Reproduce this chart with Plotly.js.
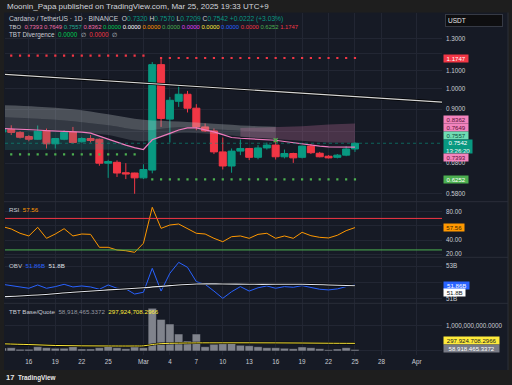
<!DOCTYPE html>
<html><head><meta charset="utf-8">
<script src="https://cdn.plot.ly/plotly-3.0.1.min.js"></script>
<style>html,body{margin:0;padding:0;background:#1e1e1e;}#chart{width:512px;height:385px;}</style>
</head><body><div id="chart"></div>
<script>
// ---------- DATA ----------
const dates = ['2025-02-13','2025-02-14','2025-02-15','2025-02-16','2025-02-17','2025-02-18','2025-02-19','2025-02-20','2025-02-21','2025-02-22','2025-02-23','2025-02-24','2025-02-25','2025-02-26','2025-02-27','2025-02-28','2025-03-01','2025-03-02','2025-03-03','2025-03-04','2025-03-05','2025-03-06','2025-03-07','2025-03-08','2025-03-09','2025-03-10','2025-03-11','2025-03-12','2025-03-13','2025-03-14','2025-03-15','2025-03-16','2025-03-17','2025-03-18','2025-03-19','2025-03-20','2025-03-21','2025-03-22','2025-03-23','2025-03-24','2025-03-25'];
const open  = [0.800,0.810,0.798,0.781,0.770,0.806,0.752,0.770,0.800,0.760,0.773,0.770,0.680,0.683,0.647,0.646,0.630,0.656,1.135,0.855,0.938,0.973,0.905,0.821,0.804,0.721,0.670,0.724,0.734,0.701,0.736,0.747,0.703,0.715,0.701,0.743,0.716,0.705,0.701,0.709,0.7320];
const high  = [0.815,0.828,0.803,0.787,0.827,0.814,0.775,0.807,0.821,0.778,0.787,0.773,0.692,0.690,0.680,0.647,0.676,1.150,1.1747,0.959,1.023,0.990,0.924,0.836,0.814,0.777,0.734,0.769,0.736,0.747,0.757,0.773,0.730,0.718,0.745,0.751,0.721,0.709,0.713,0.743,0.7570];
const low   = [0.795,0.787,0.773,0.762,0.768,0.734,0.734,0.766,0.753,0.757,0.757,0.671,0.630,0.633,0.626,0.580,0.626,0.645,0.821,0.757,0.911,0.885,0.807,0.800,0.713,0.658,0.647,0.709,0.691,0.694,0.730,0.693,0.697,0.681,0.697,0.713,0.701,0.697,0.697,0.705,0.7209];
const close = [0.810,0.798,0.778,0.770,0.803,0.752,0.773,0.798,0.757,0.773,0.765,0.680,0.686,0.646,0.643,0.630,0.658,1.135,0.858,0.943,0.973,0.905,0.821,0.804,0.721,0.670,0.724,0.734,0.701,0.736,0.747,0.703,0.715,0.699,0.743,0.718,0.703,0.699,0.709,0.732,0.7542];

// TBO fast line (pink)
const fastMA = [0.814,0.813,0.811,0.809,0.808,0.805,0.804,0.803,0.801,0.799,0.795,0.782,0.769,0.759,0.747,0.737,0.730,0.768,0.780,0.794,0.808,0.817,0.817,0.810,0.800,0.789,0.777,0.774,0.772,0.770,0.769,0.766,0.761,0.756,0.751,0.746,0.743,0.740,0.739,0.738,0.7393];
// gray cloud
const cloudDates = ['2025-02-13','2025-02-17','2025-02-21','2025-02-25','2025-03-01','2025-03-05','2025-03-09','2025-03-13','2025-03-16'];
const cloudTop = [0.919,0.912,0.900,0.877,0.852,0.844,0.835,0.826,0.822];
const cloudMid = [0.864,0.857,0.846,0.828,0.807,0.820,0.811,0.803,0.800];
const cloudBot = [0.816,0.811,0.803,0.787,0.762,0.795,0.791,0.778,0.772];
// teal cloud under fast line
const tealLowDates = ['2025-02-13','2025-02-20','2025-02-27','2025-03-01'];
const tealLow = [0.728,0.730,0.731,0.730];
// pink cloud
const pinkDates = ['2025-03-12','2025-03-16','2025-03-19','2025-03-22','2025-03-25'];
const pinkTop = [0.816,0.820,0.824,0.831,0.8362];
const pinkBot = [0.780,0.770,0.762,0.757,0.7557];
// trend line drawing
const trendDates = ['2025-02-13','2025-04-05'];
const trendVals = [1.080,0.931];
// dotted levels
const resistLevels = [1.189, 1.1747];
const supportLevels = [0.712, 0.6252];
// signal cross
const crossDates = ['2025-03-16'];
const crossVals = [0.766];

// RSI
const rsi = [59,55.6,49.5,45.7,58,42.4,48.5,56,45.7,48.5,48,29.7,29.7,25.9,24.9,22.6,35.4,86.2,56.5,61.2,62.6,56.5,49.5,48.5,42.4,37.6,44.7,45.7,42.4,48,49.5,42.4,45.7,42.4,50.9,46.1,43.8,42.9,46.7,53.2,57.56];
const rsiUpper = 70.5, rsiLower = 26;
// OBV (billions)
const obv = [51.89,51.81,51.75,51.65,51.85,51.65,51.75,51.89,51.73,51.79,51.73,51.59,51.85,51.65,51.61,51.30,51.41,52.86,51.48,52.56,53.22,52.92,52.05,51.89,51.48,51.04,51.44,51.75,51.48,51.68,51.79,51.65,51.75,51.71,51.81,51.71,51.59,51.55,51.61,51.75,51.86];
const obvMaDates = ['2025-02-13','2025-02-17','2025-02-21','2025-02-25','2025-03-01','2025-03-04','2025-03-07','2025-03-10','2025-03-13','2025-03-16','2025-03-19','2025-03-22','2025-03-25'];
const obvMa = [51.14,51.24,51.41,51.55,51.68,51.81,51.91,51.91,51.89,51.89,51.89,51.85,51.80];
// TBT Base/Quote volume (millions)
const vol = [120,128,66,66,167,128,105,105,167,78,78,128,233,128,90,156,128,1660,1230,1050,660,390,660,167,260,284,323,222,206,167,128,128,105,90,156,128,90,51,78,128,58.918];
const volMaDates = ['2025-02-13','2025-02-16','2025-02-19','2025-02-22','2025-02-25','2025-02-28','2025-03-01','2025-03-02','2025-03-03','2025-03-05','2025-03-07','2025-03-10','2025-03-13','2025-03-16','2025-03-19','2025-03-22','2025-03-25'];
const volMa = [280,250,215,200,195,195,200,250,285,305,315,318,318,315,310,303,297.925];

// axis ticks
const xTickVals = ['2025-02-16','2025-02-19','2025-02-22','2025-02-25','2025-03-01','2025-03-04','2025-03-07','2025-03-10','2025-03-13','2025-03-16','2025-03-19','2025-03-22','2025-03-25','2025-03-28','2025-04-01'];
const xTickText = ['16','19','22','25','Mar','4','7','10','13','16','19','22','25','28','Apr'];
const priceTicks = [0.58,0.68,0.8,0.9,1.0,1.1,1.2,1.3];
const priceTickText = ['0.5800','0.6800','','0.9000','1.0000','1.1000','','1.3000'];
const rsiTicks = [20,40,60,80], rsiTickText = ['20.00','40.00','','80.00'];
const obvTicks = [51,52,53], obvTickText = ['51B','','53B'];
const volTicks = [0,1000], volTickText = ['','1,000,000,000.0000'];

// TBO legend values
const tboVals = ['0.7393','0.7649','0.7557','0.8362','0.0000','0.0000','0.0000','0.0000','0.0000','0.0000','0.0000','0.0000','0.6252','1.1747'];

// ---------- LAYOUT HELPERS ----------
const W = 512, H = 385;
const F = 'Liberation Sans, Arial, sans-serif';
const PX = p => p / W, PY = p => 1 - p / H;
const xRange = ['2025-02-13 07:00','2025-04-03 21:00'];
const GRID = '#222633';
const TXT = '#c9ccd4';

const tboColors = ['#f06ba8','#f06ba8','#22ab94','#f06ba8','#00c853','#ffffff','#ff9800','#4caf50','#e040fb','#ffeb3b','#2962ff','#f23645','#4caf50','#f23645'];
const sp = (c, t) => `<span style="color:${c}">${t}</span>`;

const traces = [];
traces.push({type:'candlestick', x:dates, open, high, low, close, xaxis:'x', yaxis:'y',
  increasing:{line:{color:'#089981',width:1}, fillcolor:'#089981'},
  decreasing:{line:{color:'#f23645',width:1}, fillcolor:'#f23645'},
  whiskerwidth:0, hoverinfo:'skip'});
// teal cloud
traces.push({type:'scatter', mode:'lines', x:dates.slice(0,17), y:fastMA.slice(0,17), line:{width:0}, yaxis:'y', hoverinfo:'skip'});
traces.push({type:'scatter', mode:'lines', x:tealLowDates, y:tealLow, line:{width:0}, fill:'tonexty', fillcolor:'rgba(38,166,154,0.18)', yaxis:'y', hoverinfo:'skip'});
// gray cloud
traces.push({type:'scatter', mode:'lines', x:cloudDates, y:cloudTop, line:{width:0,shape:'spline'}, yaxis:'y', hoverinfo:'skip'});
traces.push({type:'scatter', mode:'lines', x:cloudDates, y:cloudMid, line:{width:0,shape:'spline'}, fill:'tonexty', fillcolor:'rgba(200,205,210,0.30)', yaxis:'y', hoverinfo:'skip'});
traces.push({type:'scatter', mode:'lines', x:cloudDates, y:cloudBot, line:{width:0,shape:'spline'}, fill:'tonexty', fillcolor:'rgba(170,178,185,0.20)', yaxis:'y', hoverinfo:'skip'});
// pink cloud
traces.push({type:'scatter', mode:'lines', x:pinkDates, y:pinkTop, line:{width:0}, yaxis:'y', hoverinfo:'skip'});
traces.push({type:'scatter', mode:'lines', x:pinkDates, y:pinkBot, line:{width:0}, fill:'tonexty', fillcolor:'rgba(205,120,165,0.28)', yaxis:'y', hoverinfo:'skip'});
// fast line
traces.push({type:'scatter', mode:'lines', x:dates, y:fastMA, line:{color:'#ef7bbd',width:1.2}, yaxis:'y', hoverinfo:'skip'});
// trend line
traces.push({type:'scatter', mode:'lines', x:trendDates, y:trendVals, line:{color:'#000000',width:2.6}, yaxis:'y', hoverinfo:'skip'});
traces.push({type:'scatter', mode:'lines', x:trendDates, y:trendVals, line:{color:'#d6d6d6',width:1.1}, yaxis:'y', hoverinfo:'skip'});
// dotted levels
const res1 = dates.slice(1,17), res2 = dates.slice(18), sup1 = dates.slice(1,16), sup2 = dates.slice(17);
[[res1,resistLevels[0],'#f23645'],[res2,resistLevels[1],'#f23645'],[sup1,supportLevels[0],'#4caf50'],[sup2,supportLevels[1],'#4caf50']].forEach(([d,lv,c])=>{
  traces.push({type:'scatter', mode:'markers', x:d, y:d.map(()=>lv), marker:{symbol:'square',size:2.2,color:c}, yaxis:'y', hoverinfo:'skip'});
});
// last price line
const last = close[close.length-1];
traces.push({type:'scatter', mode:'lines', x:xRange, y:[last,last], line:{color:'rgba(8,153,129,0.75)',width:0.8,dash:'dot'}, yaxis:'y', hoverinfo:'skip'});
traces.push({type:'scatter', mode:'markers', x:crossDates, y:crossVals, marker:{symbol:'x-thin',size:4,color:'#4caf50',line:{color:'#4caf50',width:1.5}}, yaxis:'y', hoverinfo:'skip'});
// RSI
traces.push({type:'scatter', mode:'lines', x:dates, y:rsi, line:{color:'#ff9800',width:1}, yaxis:'y2', hoverinfo:'skip'});
// OBV
traces.push({type:'scatter', mode:'lines', x:dates, y:obv, line:{color:'#2962ff',width:1}, yaxis:'y3', hoverinfo:'skip'});
traces.push({type:'scatter', mode:'lines', x:obvMaDates, y:obvMa, line:{color:'#000000',width:2.4,shape:'spline'}, yaxis:'y3', hoverinfo:'skip'});
traces.push({type:'scatter', mode:'lines', x:obvMaDates, y:obvMa, line:{color:'#e0e3eb',width:1.1,shape:'spline'}, yaxis:'y3', hoverinfo:'skip'});
// TBT
traces.push({type:'bar', x:dates, y:vol, marker:{color:'#80838c',line:{color:'#161a25',width:0.5}}, yaxis:'y4', hoverinfo:'skip'});
traces.push({type:'scatter', mode:'lines', x:volMaDates, y:volMa, line:{color:'#000000',width:2.2,shape:'spline'}, yaxis:'y4', hoverinfo:'skip'});
traces.push({type:'scatter', mode:'lines', x:volMaDates, y:volMa, line:{color:'#ffeb3b',width:1,shape:'spline'}, yaxis:'y4', hoverinfo:'skip'});

const tickFont = {family:F, size:6.3, color:TXT};
const yBase = {side:'right', anchor:'x', showgrid:true, gridcolor:GRID, gridwidth:1, zeroline:false, showline:false, ticks:'', tickfont:tickFont, fixedrange:true, ticklabelstandoff:3};

const annotations = [];
const A = (text, xpx, ypx, o={}) => annotations.push(Object.assign({xref:'paper', yref:'paper', x:PX(xpx), y:PY(ypx), xanchor:'left', yanchor:'middle', text, showarrow:false, font:{family:F,size:6.2,color:TXT}}, o));
// header
A('Moonin_Papa published on TradingView.com, Mar 25, 2025 19:33 UTC+9', 5, 6.3, {font:{family:F,size:8,color:'#d1d4dc'}});
// legend
const n = close.length-1;
const G = '#089981';
A(`Cardano / TetherUS · 1D · BINANCE&nbsp; O${sp(G,open[n].toFixed(4))} H${sp(G,high[n].toFixed(4))} L${sp(G,low[n].toFixed(4))} C${sp(G,close[n].toFixed(4))} ${sp(G,'+0.0222 (+3.03%)')}`, 7, 19, {font:{family:F,size:6.7,color:TXT}});
A('TBO&nbsp; ' + tboVals.map((v,i)=>sp(tboColors[i],v)).join(' '), 7, 27.2, {font:{family:F,size:5.9,color:TXT}});
A(`TBT Divergence&nbsp; ${sp('#00c853','0.0000')}&nbsp; ∅&nbsp; ${sp('#f23645','0.0000')}&nbsp; ∅`, 7, 35.3, {font:{family:F,size:6.3,color:TXT}});
// USDT box
A('USDT', 445, 20.3, {bgcolor:'#0e0e10', bordercolor:'#363a45', borderwidth:1, borderpad:2, width:52, align:'left', font:{family:F,size:6.5,color:'#e8e8e8'}});
// price labels
const PL = (txt, v, shift, bg, fc, yref='y', isLog=true, w=23, h=5.4) => annotations.push({xref:'paper', x:PX(443), xanchor:'left', yref, y: isLog?Math.log10(v):v, yshift:shift, yanchor:'middle', text:txt, showarrow:false, bgcolor:bg, borderpad:0.7, width:w, height:h, align:'center', font:{family:F,size:6.1,color:fc}});
PL(resistLevels[1].toFixed(4), resistLevels[1], -0.3, '#f23645', '#ffffff');
PL(tboVals[3], 0.8362, 4.2, '#f383bd', '#5a1236');
PL(tboVals[1], 0.7649, 13.1, '#f383bd', '#5a1236');
PL(tboVals[2], 0.7557, 7, '#6fdcb4', '#0b4d3a');
PL(last.toFixed(4)+'<br>13:26:20', last, -3.4, '#089981', '#ffffff', 'y', true, 27, 12);
PL(tboVals[0], 0.7393, -10.3, '#f383bd', '#5a1236');
PL(supportLevels[1].toFixed(4), supportLevels[1], -0.4, '#4caf50', '#ffffff');
// RSI
A(`RSI&nbsp; ${sp('#ff9800',rsi[n].toFixed(2))}`, 7, 210);
PL(rsi[n].toFixed(2), rsi[n], 0.3, '#ff9800', '#3b2500', 'y2', false, 19);
// OBV
A(`OBV&nbsp; ${sp('#2962ff',obv[n].toFixed(2)+'B')}&nbsp; ${sp('#e0e3eb',obvMa[obvMa.length-1].toFixed(1)+'B')}`, 7, 265);
PL(obv[n].toFixed(2)+'B', obv[n], -0.4, '#2962ff', '#ffffff', 'y3', false, 24);
PL(obvMa[obvMa.length-1].toFixed(1)+'B', obvMa[obvMa.length-1], -7.2, '#ffffff', '#131722', 'y3', false, 20);
// TBT
A(`TBT Base/Quote&nbsp; ${sp('#9598a1','58,918,465.3372')}&nbsp; ${sp('#ffeb3b','297,924,708.2966')}`, 7, 311);
PL('297,924,708.2966', volMa[volMa.length-1], 3, '#ffeb3b', '#131722', 'y4', false, 54);
PL('58,918,465.3372', vol[n], 1.2, '#787b86', '#ffffff', 'y4', false, 54);
// logo
A('<b>17</b>', 4, 377.5, {font:{family:F,size:7.5,color:'#e8e8e8'}});
A('<b>TradingView</b>', 16, 377.5, {font:{family:F,size:6.4,color:'#e8e8e8'}});

const shapes = [
  {type:'rect', xref:'paper', yref:'paper', x0:PX(4), x1:PX(508), y0:PY(370), y1:PY(12.5), fillcolor:'#161a25', line:{width:0}, layer:'below'},
  {type:'line', xref:'paper', yref:'paper', x0:PX(4), x1:PX(508), y0:PY(201.7), y1:PY(201.7), line:{color:'#2a2e39',width:1}},
  {type:'line', xref:'paper', yref:'paper', x0:PX(4), x1:PX(508), y0:PY(257.3), y1:PY(257.3), line:{color:'#2a2e39',width:1}},
  {type:'line', xref:'paper', yref:'paper', x0:PX(4), x1:PX(508), y0:PY(303.3), y1:PY(303.3), line:{color:'#2a2e39',width:1}},
  {type:'line', xref:'paper', yref:'paper', x0:PX(508), x1:PX(508), y0:PY(370), y1:PY(12.5), line:{color:'#2a2e39',width:1}},
  {type:'line', xref:'paper', yref:'y2', x0:PX(5), x1:PX(442), y0:rsiUpper, y1:rsiUpper, line:{color:'#f23645',width:1}},
  {type:'line', xref:'paper', yref:'y2', x0:PX(5), x1:PX(442), y0:rsiLower, y1:rsiLower, line:{color:'#4caf50',width:1}}
];

const layout = {
  width:W, height:H, margin:{l:0,r:0,t:0,b:0},
  paper_bgcolor:'#1e1e1e', plot_bgcolor:'rgba(0,0,0,0)',
  showlegend:false, hovermode:false, bargap:0.06, boxgap:0.2, boxgroupgap:0,
  font:{family:F, color:TXT},
  xaxis:{type:'date', domain:[PX(5),PX(442)], range:xRange, anchor:'y4', tickvals:xTickVals, ticktext:xTickText,
    tickfont:tickFont, showgrid:true, gridcolor:GRID, zeroline:false, showline:false, ticks:'', rangeslider:{visible:false}, fixedrange:true, ticklabelstandoff:2},
  yaxis:Object.assign({}, yBase, {type:'log', domain:[PY(201.7),PY(12.5)], range:[-0.2545,0.1727], tickvals:priceTicks, ticktext:priceTickText}),
  yaxis2:Object.assign({}, yBase, {domain:[PY(257.3),PY(201.7)], range:[15.6,94.1], tickvals:rsiTicks, ticktext:rsiTickText}),
  yaxis3:Object.assign({}, yBase, {domain:[PY(303.3),PY(257.3)], range:[50.739,53.527], tickvals:obvTicks, ticktext:obvTickText}),
  yaxis4:Object.assign({}, yBase, {domain:[PY(355),PY(303.3)], range:[-156,1856], tickvals:volTicks, ticktext:volTickText}),
  annotations, shapes
};
Plotly.newPlot('chart', traces, layout, {staticPlot:true, displayModeBar:false});
</script></body></html>
